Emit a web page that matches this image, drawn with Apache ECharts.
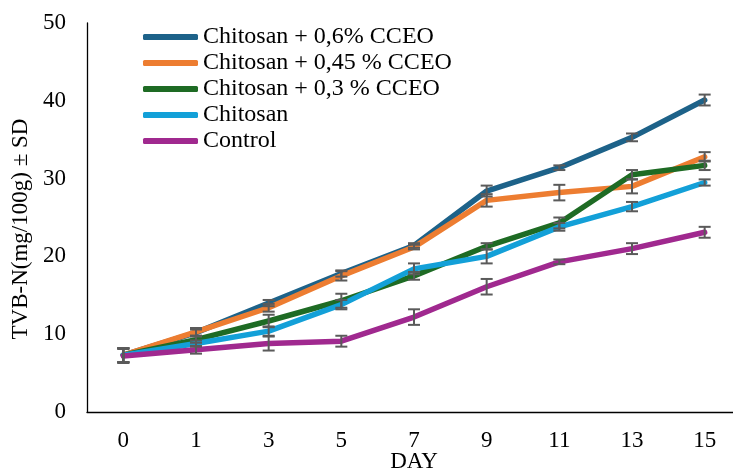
<!DOCTYPE html>
<html>
<head>
<meta charset="utf-8">
<script src="https://cdn.jsdelivr.net/npm/echarts@6/dist/echarts.min.js"></script>
<style>html,body{margin:0;padding:0;background:#fff}#chart{width:733px;height:471px}</style>
</head>
<body>
<div id="chart"></div>
<script>
const days = ['0','1','3','5','7','9','11','13','15'];
const seriesNames = ['Chitosan + 0,6% CCEO','Chitosan + 0,45 % CCEO','Chitosan + 0,3 % CCEO','Chitosan','Control'];
const cceo06  = [7.3, 10.2, 14.0, 17.8, 21.4, 28.4, 31.4, 35.3, 40.1];
const cceo045 = [7.3, 10.3, 13.4, 17.5, 21.2, 27.2, 28.2, 29.0, 32.8];
const cceo03  = [7.3, 9.3, 11.7, 14.3, 17.5, 21.3, 24.3, 30.5, 31.7];
const chitosan = [7.3, 8.8, 10.4, 13.8, 18.4, 20.0, 23.8, 26.4, 29.5];
const control = [7.2, 8.0, 8.8, 9.1, 12.2, 16.1, 19.3, 21.0, 23.1];
const sd06  = [0.9, 0.4, 0.4, 0.4, 0.3, 0.7, 0.3, 0.5, 0.7];
const sd045 = [0.9, 0.5, 0.5, 0.6, 0.3, 0.8, 1.0, 0.9, 0.6];
const sd03  = [0.9, 0.4, 0.8, 0.9, 0.5, 0.4, 0.7, 0.6, 0.6];
const sdChit = [0.9, 0.4, 0.6, 0.6, 0.7, 0.9, 0.5, 0.6, 0.4];
const sdControl = [0.9, 0.5, 0.9, 0.7, 1.0, 1.0, 0.3, 0.7, 0.7];
const yTicks = [0, 10, 20, 30, 40, 50];

const colors = ['#1D6289', '#ED7D31', '#1E6B24', '#13A0D8', '#A0298F'];
const values = [cceo06, cceo045, cceo03, chitosan, control];
const sds = [sd06, sd045, sd03, sdChit, sdControl];
const FONT = "'Liberation Serif', 'Times New Roman', serif";

const lineSeries = values.map((v, k) => ({
  type: 'line',
  name: seriesNames[k],
  data: v,
  symbol: 'none',
  z: 2,
  lineStyle: { color: colors[k], width: 5.5, cap: 'round', join: 'round' },
  itemStyle: { color: colors[k] }
}));

const errSeries = values.map((v, k) => ({
  type: 'custom',
  name: 'err' + k,
  z: 3,
  silent: true,
  data: v.map((val, i) => [i, val - sds[k][i], val + sds[k][i]]),
  encode: { x: 0, y: [1, 2] },
  renderItem: function (params, api) {
    const lo = api.coord([api.value(0), api.value(1)]);
    const hi = api.coord([api.value(0), api.value(2)]);
    const w = 6;
    const st = { stroke: '#5A5A5A', lineWidth: 2 };
    return {
      type: 'group',
      children: [
        { type: 'line', shape: { x1: lo[0], y1: lo[1], x2: hi[0], y2: hi[1] }, style: st },
        { type: 'line', shape: { x1: lo[0] - w, y1: lo[1], x2: lo[0] + w, y2: lo[1] }, style: st },
        { type: 'line', shape: { x1: hi[0] - w, y1: hi[1], x2: hi[0] + w, y2: hi[1] }, style: st }
      ]
    };
  }
}));

const chart = echarts.init(document.getElementById('chart'), null, { renderer: 'canvas' });
chart.setOption({
  animation: false,
  backgroundColor: '#fff',
  grid: { left: 87, right: -8, top: 23, bottom: 59, containLabel: false, outerBoundsMode: 'none' },
  legend: {
    orient: 'vertical',
    left: 143,
    top: 24,
    padding: 0,
    itemWidth: 55,
    itemHeight: 6,
    itemGap: 0,
    icon: 'roundRect',
    data: seriesNames,
    textStyle: { fontFamily: FONT, fontSize: 24, color: '#000', lineHeight: 26 }
  },
  xAxis: {
    type: 'category',
    data: days,
    boundaryGap: true,
    name: 'DAY',
    nameLocation: 'middle',
    nameGap: 38,
    nameMoveOverlap: false,
    nameTextStyle: { fontFamily: FONT, fontSize: 23, color: '#000' },
    axisLine: { lineStyle: { color: '#000', width: 1.3 } },
    axisTick: { show: false },
    axisLabel: { fontFamily: FONT, fontSize: 23, color: '#000', margin: 17 },
    splitLine: { show: false }
  },
  yAxis: {
    type: 'value',
    min: yTicks[0],
    max: yTicks[yTicks.length - 1],
    interval: yTicks[1] - yTicks[0],
    axisLine: { show: true, lineStyle: { color: '#000', width: 1.3 } },
    axisTick: { show: false },
    axisLabel: { fontFamily: FONT, fontSize: 23, color: '#000', margin: 21 },
    splitLine: { show: false }
  },
  graphic: [{
    type: 'text',
    x: 21,
    y: 229,
    rotation: Math.PI / 2,
    style: {
      text: 'TVB-N(mg/100g) ± SD',
      fontFamily: FONT,
      fontSize: 23,
      fill: '#000',
      align: 'center',
      verticalAlign: 'middle'
    }
  }],
  series: lineSeries.concat(errSeries)
});
</script>
</body>
</html>
